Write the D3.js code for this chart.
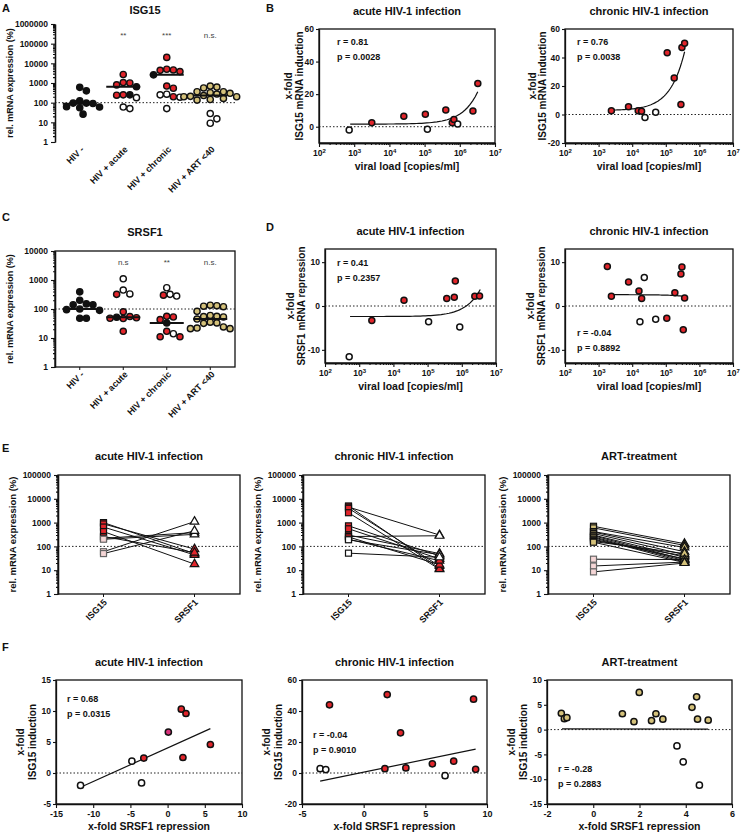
<!DOCTYPE html>
<html>
<head>
<meta charset="utf-8">
<script src="https://cdn.jsdelivr.net/npm/d3@7"></script>
<style>
body{margin:0;background:#fff;}
svg{display:block;}
</style>
</head>
<body>
<script>
// ---------- values ----------
var groups=["HIV -","HIV + acute","HIV + chronic","HIV + ART <40"]

// A: ISG15 rel. mRNA expression (%)  (k=black, r=red, o=open, y=yellow)
var isgNeg=[600,400,125,95,95,90,62,60,55,26]
var isgNegKind="kkkkkkkkkk"
var isgAcute=[2700,1050,1000,800,650,250,250,240,180,60,50]
var isgAcuteKind="rrrrkrkrooo"
var isgChronic=[20000,5000,4600,4400,3800,2600,700,540,270,250,200,190,50]
var isgChronicKind="rrrrrkrrooroo"
var isgArt=[700,620,560,360,360,320,300,275,230,210,200,200,165,145,135,28,15,9]
var isgArtKind="yyyyyyyyyyyyyyyooo"
var isgLines=[88,650,2600,230]
var isgSig=["","**","***","n.s."]

// C: SRSF1 rel. mRNA expression (%)
var srNeg=[390,200,150,140,140,100,95,90,48,48]
var srNegKind="kkkkkkkkkk"
var srAcute=[1100,450,330,320,80,55,52,50,48,47,17]
var srAcuteKind="ooorrrkrrrr"
var srChronic=[540,320,300,280,56,53,43,33,17,14,11,11]
var srChronicKind="oororrrkrorr"
var srArt=[135,130,125,120,83,60,56,55,53,45,35,33,32,24,22,21,21]
var srArtKind="yyyyyyyyyyyyyyyyy"
var srLines=[100,52,33,45]
var srSig=["","n.s","**","n.s."]

// B: ISG15 x-fold induction vs viral load
var bAcuteLoad=[720,3160,25700,105000,120000,400000,610000,680000,870000,2360000,3250000]
var bAcuteFold=[-2.0,2.5,6.5,7.6,-1.6,10.2,2.5,4.5,1.6,9.6,26.6]
var bAcuteKind="orrrorrrorr"
var bAcuteFit=[770,3240000,1.6,6.14e-6]        // xStart, xEnd, intercept, slope
var bChronicLoad=[2400,7760,15100,19000,24000,50000,110000,178000,282000,302000,363000]
var bChronicFold=[2.6,5.4,2.6,2.3,-2.1,1.6,43.4,25.6,7.0,47,50]
var bChronicKind="rrrroorrrrr"
var bChronicFit=[2400,363000,2.78,1.137e-4]

// D: SRSF1 x-fold repression vs viral load
var dAcuteLoad=[510,2340,20400,107000,363000,603000,646000,871000,2400000,3300000]
var dAcuteFold=[-11.6,-3.3,1.3,-3.6,1.7,2.0,5.7,-4.8,2.2,2.3]
var dAcuteKind="orrorrrorr"
var dAcuteFit=[540,3470000,-2.4,1.78e-6]
var dChronicLoad=[1820,2400,7800,15900,19100,22900,17000,50000,107000,186000,282000,302000,363000,331000]
var dChronicFold=[9.0,2.2,5.5,3.4,1.7,6.5,-3.6,-3.0,-2.8,3.0,7.3,8.9,1.8,-5.4]
var dChronicKind="rrrrrooorrrrrr"
var dChronicFit=[1950,363000,2.58,-1.05e-6]

// E: paired ISG15 / SRSF1 (r red, p pink/open, x red/open, w white, y yellow, q pink/yellow)
var eAcuteIsg=[1000,880,650,420,260,220,200,60,50]
var eAcuteSr=[50,77,44,18,55,380,320,1100,450]
var eAcuteKind="rrrrrxppp"
var eChronicIsg=[5000,4500,4000,2600,730,550,300,260,250,200,190,52]
var eChronicSr=[12,300,15,11,40,30,50,280,17,25,45,35]
var eChronicKind="rxrrrrrxrrww"
var eArtIsg=[700,600,420,400,350,300,280,250,230,200,180,160,150,29,15,8.5]
var eArtSr=[130,110,90,60,45,35,28,25,22,30,40,50,21,28,22,20]
var eArtKind="yyyyyyyyyyyyyqqq"

// F: ISG15 induction vs SRSF1 repression
var fAcuteX=[-11.7,-4.8,-3.2,-3.5,0.1,1.84,2.47,2.06,5.75]
var fAcuteY=[-2.0,1.9,2.4,-1.6,6.6,10.3,9.6,2.5,4.6]
var fAcuteKind="ooromrrrr"
var fAcuteFit=[-11.7,5.75,4.04,0.5415]
var fChronicX=[-3.53,-3.07,-2.77,1.91,1.72,2.99,3.42,5.57,6.6,7.3,8.91,9.08]
var fChronicY=[2.8,2.2,44,50.6,2.8,25.9,3.3,5.9,-1.7,7.6,47.6,2.4]
var fChronicKind="oorrrrrrorrr"
var fChronicFit=[-3.53,9.08,0.566,1.634]
var fArtX=[-1.38,-1.25,-1.14,1.26,1.76,1.99,2.52,2.71,3.01,4.27,4.47,4.51,4.97,3.62,3.89,4.59]
var fArtY=[3.3,2.2,2.4,3.2,1.6,7.5,1.8,3.2,2.1,4.5,6.6,2.1,1.9,-3.3,-6.5,-11.2]
var fArtKind="yyyyyyyyyyyyyooo"
var fArtFit=[-1.35,4.97,0.15,-0.01]

// ---------- drawing ----------
var FONT="'Liberation Sans', Arial, sans-serif"
var RED="#e2252b", YEL="#d4c17a", PINK="#f5d6d6", MAG="#d8307a"
var fills={r:RED,k:"#111",o:"#fff",y:YEL,m:MAG,w:"#fff",p:PINK}
var sqFill={r:RED,p:PINK,x:RED,w:"#fff",y:YEL,q:PINK}
var triFill={r:RED,p:"#fff",x:"#fff",w:"#fff",y:YEL,q:YEL}

var svg=d3.select("body").append("svg").attr("width",742).attr("height",833)
  .attr("font-family",FONT).attr("font-weight","bold")

var addText=function(x,y,s,size,anchor,rot){
  var t=svg.append("text").attr("x",x).attr("y",y).attr("font-size",size)
    .attr("text-anchor",anchor||"middle").attr("fill","#111").text(s)
  if(rot)t.attr("transform","rotate("+rot+","+x+","+y+")")
  return t
}

var styleAxis=function(a,size){
  a.attr("font-family",null).attr("font-size",null)
  a.select(".domain").attr("stroke","#111").attr("stroke-width",1.3)
  a.selectAll(".tick line").attr("stroke","#111").attr("stroke-width",1.1)
  a.selectAll(".tick text").attr("fill","#111").attr("font-size",size||8.5).attr("font-weight","bold")
}

var box=function(g,p){
  g.append("rect").attr("x",p.left).attr("y",p.top)
   .attr("width",p.right-p.left).attr("height",p.bottom-p.top)
   .attr("fill","none").attr("stroke","#111").attr("stroke-width",1.3)
}

var dotted=function(g,x1,x2,yy){
  g.append("line").attr("x1",x1).attr("x2",x2).attr("y1",yy).attr("y2",yy)
   .attr("stroke","#222").attr("stroke-width",1).attr("stroke-dasharray","1.5,2")
}

var logLeft=function(g,y,maxExp,x0){
  var major=d3.range(0,maxExp+1).map(function(e){return Math.pow(10,e)})
  var minor=[]
  d3.range(0,maxExp).forEach(function(e){
    d3.range(2,10).forEach(function(m){minor.push(m*Math.pow(10,e))})})
  var m=g.append("g").attr("transform","translate("+x0+",0)")
    .call(d3.axisLeft(y).tickValues(minor).tickSize(2).tickSizeOuter(0).tickFormat(""))
  styleAxis(m)
  var a=g.append("g").attr("transform","translate("+x0+",0)")
    .call(d3.axisLeft(y).tickValues(major).tickSize(4).tickSizeOuter(0).tickFormat(d3.format("d")))
  styleAxis(a,8.5)
}

var linLeft=function(g,y,ticks,x0){
  var a=g.append("g").attr("transform","translate("+x0+",0)")
    .call(d3.axisLeft(y).tickValues(ticks).tickSize(3).tickPadding(2).tickSizeOuter(0).tickFormat(function(d){return String(d)}))
  styleAxis(a,8.5)
}

// simple deterministic beeswarm
var swarm=function(ys,minDist){
  var order=d3.range(ys.length).sort(function(a,b){return d3.ascending(ys[a],ys[b])})
  var placed=[],off=[]
  order.forEach(function(i){
    for(var k=0;k<80;k++){
      var dx=Math.ceil(k/2)*(k%2?1:-1)*minDist*0.5
      var ok=placed.every(function(q){return Math.hypot(dx-q[0],ys[i]-q[1])>=minDist})
      if(ok){off[i]=dx;placed.push([dx,ys[i]]);break}
    }
  })
  return off
}

var dotPanel=function(p){
  var y=d3.scaleLog().domain([1,Math.pow(10,p.maxExp)]).range([p.bottom,p.top])
  var x=d3.scalePoint().domain(groups).range([p.left+3,p.right-3]).padding(0.5)
  var g=svg.append("g")
  if(p.box){
    box(g,p)
    groups.forEach(function(c){
      g.append("line").attr("x1",x(c)).attr("x2",x(c)).attr("y1",p.bottom).attr("y2",p.bottom+3).attr("stroke","#111")})
  }
  dotted(g,p.left,p.right,y(100))
  logLeft(g,y,p.maxExp,p.left)
  p.sets.forEach(function(vals,i){
    var kinds=p.kinds[i].split("")
    var cx=x(groups[i])
    var off=swarm(vals.map(function(v){return y(v)}),6.6)
    g.append("g").selectAll("circle").data(vals).enter().append("circle")
      .attr("cx",function(d,j){return cx+off[j]})
      .attr("cy",function(d){return y(d)})
      .attr("r",3.1)
      .attr("fill",function(d,j){return fills[kinds[j]]})
      .attr("stroke","#111").attr("stroke-width",1.4)
    g.append("line").attr("x1",cx-17).attr("x2",cx+17)
      .attr("y1",y(p.lines[i])).attr("y2",y(p.lines[i]))
      .attr("stroke","#111").attr("stroke-width",2)
    g.append("text").attr("x",cx).attr("y",p.sigY).attr("text-anchor","middle")
      .attr("font-size",8).attr("font-weight","normal").attr("fill","#444").text(p.sig[i])
    g.append("text").attr("transform","translate("+(cx+5)+","+p.labY+") rotate(-45)")
      .attr("text-anchor","end").attr("font-size",9).attr("fill","#111").text(groups[i])
  })
  addText(145,p.titleY,p.title,11)
  addText(13,(p.top+p.bottom)/2,"rel. mRNA expression (%)",9,"middle",-90)
}

var loadPanel=function(p){
  var x=d3.scaleLog().domain([1e2,1e7]).range([p.left,p.right])
  var y=d3.scaleLinear().domain(p.ydom).range([p.bottom,p.top])
  var g=svg.append("g")
  box(g,p)
  dotted(g,p.left,p.right,y(0))
  linLeft(g,y,p.yticks,p.left)
  var minor=[]
  d3.range(2,7).forEach(function(e){d3.range(2,10).forEach(function(m){minor.push(m*Math.pow(10,e))})})
  var m=g.append("g").attr("transform","translate(0,"+p.bottom+")")
    .call(d3.axisBottom(x).tickValues(minor).tickSize(2).tickSizeOuter(0).tickFormat(""))
  styleAxis(m)
  var a=g.append("g").attr("transform","translate(0,"+p.bottom+")")
    .call(d3.axisBottom(x).tickValues([1e2,1e3,1e4,1e5,1e6,1e7]).tickSize(4).tickSizeOuter(0))
  styleAxis(a,8.5)
  a.selectAll(".tick text").text("10").append("tspan").attr("dy","-3.5").attr("font-size",6)
    .text(function(d){return Math.round(Math.log10(d))})
  // fitted model y = a + b*x, drawn along the log axis
  var f=p.fit, lx0=Math.log10(f[0]), lx1=Math.log10(f[1])
  var pts=d3.range(0,1.0001,0.02).map(function(t){var v=Math.pow(10,lx0+t*(lx1-lx0));return [v,f[2]+f[3]*v]})
  g.append("path").datum(pts)
    .attr("d",d3.line().x(function(d){return x(d[0])}).y(function(d){return y(d[1])}))
    .attr("fill","none").attr("stroke","#111").attr("stroke-width",1.2)
  var kinds=p.kind.split("")
  g.append("g").selectAll("circle").data(p.load).enter().append("circle")
    .attr("cx",function(d){return x(d)})
    .attr("cy",function(d,i){return y(p.fold[i])})
    .attr("r",3).attr("fill",function(d,i){return fills[kinds[i]]})
    .attr("stroke","#111").attr("stroke-width",1.5)
  addText((p.left+p.right)/2,p.titleY,p.title,11)
  var cy=(p.top+p.bottom)/2
  addText(p.left-p.yl1+3.5,cy,"x-fold",10,"middle",-90)
  addText(p.left-p.yl2+3.5,cy,p.ylab,10,"middle",-90)
  addText((p.left+p.right)/2,p.bottom+27,"viral load [copies/ml]",10.5)
  addText(p.left+p.statDx,p.statY,p.r,9,"start")
  addText(p.left+p.statDx,p.statY+15,p.p,9,"start")
}

var pairPanel=function(p){
  var y=d3.scaleLog().domain([1,1e5]).range([p.bottom,p.top])
  var x=d3.scalePoint().domain(["ISG15","SRSF1"]).range([p.left,p.right]).padding(0.5)
  var g=svg.append("g")
  box(g,p)
  dotted(g,p.left,p.right,y(100))
  logLeft(g,y,5,p.left)
  ;["ISG15","SRSF1"].forEach(function(c){
    g.append("line").attr("x1",x(c)).attr("x2",x(c)).attr("y1",p.bottom).attr("y2",p.bottom+3).attr("stroke","#111")
    g.append("text").attr("transform","translate("+(x(c)+4)+","+(p.bottom+9)+") rotate(-45)")
      .attr("text-anchor","end").attr("font-size",9).attr("fill","#111").text(c)
  })
  var kinds=p.kind.split("")
  g.append("g").selectAll("line").data(p.isg).enter().append("line")
    .attr("x1",x("ISG15")).attr("x2",x("SRSF1"))
    .attr("y1",function(d){return y(d)}).attr("y2",function(d,i){return y(p.sr[i])})
    .attr("stroke","#111").attr("stroke-width",1)
  g.append("g").selectAll("rect").data(p.isg).enter().append("rect")
    .attr("x",x("ISG15")-3).attr("y",function(d){return y(d)-3})
    .attr("width",6).attr("height",6)
    .attr("fill",function(d,i){return sqFill[kinds[i]]})
    .attr("stroke",function(d,i){return "pq".indexOf(kinds[i])>=0?"#666":"#111"}).attr("stroke-width",1.2)
  g.append("g").selectAll("path").data(p.sr).enter().append("path")
    .attr("d",d3.symbol(d3.symbolTriangle).size(32))
    .attr("transform",function(d){return "translate("+x("SRSF1")+","+y(d)+")"})
    .attr("fill",function(d,i){return triFill[kinds[i]]})
    .attr("stroke","#111").attr("stroke-width",1.2)
  addText((p.left+p.right)/2,p.titleY,p.title,11)
  addText(p.left-42,(p.top+p.bottom)/2,"rel. mRNA expression (%)",9.5,"middle",-90)
}

var corrPanel=function(p){
  var x=d3.scaleLinear().domain(p.xdom).range([p.left,p.right])
  var y=d3.scaleLinear().domain(p.ydom).range([p.bottom,p.top])
  var g=svg.append("g")
  box(g,p)
  dotted(g,p.left,p.right,y(0))
  linLeft(g,y,p.yticks,p.left)
  var a=g.append("g").attr("transform","translate(0,"+p.bottom+")")
    .call(d3.axisBottom(x).tickValues(p.xticks).tickSize(4).tickSizeOuter(0).tickFormat(function(d){return String(d)}))
  styleAxis(a,9)
  var f=p.fit
  g.append("line").attr("x1",x(f[0])).attr("x2",x(f[1]))
    .attr("y1",y(f[2]+f[3]*f[0])).attr("y2",y(f[2]+f[3]*f[1]))
    .attr("stroke","#111").attr("stroke-width",1.2)
  var kinds=p.kind.split("")
  g.append("g").selectAll("circle").data(p.xs).enter().append("circle")
    .attr("cx",function(d){return x(d)})
    .attr("cy",function(d,i){return y(p.ys[i])})
    .attr("r",3.1).attr("fill",function(d,i){return fills[kinds[i]]})
    .attr("stroke","#111").attr("stroke-width",1.5)
  addText((p.left+p.right)/2,p.titleY,p.title,11)
  var cy=(p.top+p.bottom)/2
  addText(p.left-32,cy,"x-fold",10,"middle",-90)
  addText(p.left-20,cy,"ISG15 induction",10,"middle",-90)
  addText((p.left+p.right)/2,830,"x-fold SRSF1 repression",10.5)
  addText(p.left+11,p.statY,p.r,9,"start")
  addText(p.left+11,p.statY+15,p.p,9,"start")
}

// A
dotPanel({left:55,right:235,top:24,bottom:142,maxExp:6,box:false,title:"ISG15",titleY:14,
  sets:[isgNeg,isgAcute,isgChronic,isgArt],kinds:[isgNegKind,isgAcuteKind,isgChronicKind,isgArtKind],
  lines:isgLines,sig:isgSig,sigY:38,labY:150})
// C
dotPanel({left:55,right:235,top:251,bottom:367,maxExp:4,box:true,title:"SRSF1",titleY:236,
  sets:[srNeg,srAcute,srChronic,srArt],kinds:[srNegKind,srAcuteKind,srChronicKind,srArtKind],
  lines:srLines,sig:srSig,sigY:265,labY:375})
// B
loadPanel({left:319,right:495,top:29,bottom:143,ydom:[-10,60],yticks:[0,20,40,60],yl1:31,yl2:20,
  load:bAcuteLoad,fold:bAcuteFold,kind:bAcuteKind,fit:bAcuteFit,title:"acute HIV-1 infection",titleY:15,
  ylab:"ISG15 mRNA induction",r:"r = 0.81",p:"p = 0.0028",statDx:18,statY:45})
loadPanel({left:565,right:733,top:29,bottom:143,ydom:[-20,60],yticks:[-20,0,20,40,60],yl1:33,yl2:23,
  load:bChronicLoad,fold:bChronicFold,kind:bChronicKind,fit:bChronicFit,title:"chronic HIV-1 infection",titleY:15,
  ylab:"ISG15 mRNA induction",r:"r = 0.76",p:"p = 0.0038",statDx:12,statY:45})
// D
loadPanel({left:325,right:496,top:249,bottom:363,ydom:[-13,13],yticks:[-10,0,10],yl1:35,yl2:24,
  load:dAcuteLoad,fold:dAcuteFold,kind:dAcuteKind,fit:dAcuteFit,title:"acute HIV-1 infection",titleY:235,
  ylab:"SRSF1 mRNA repression",r:"r = 0.41",p:"p = 0.2357",statDx:12,statY:266})
loadPanel({left:565,right:733,top:249,bottom:363,ydom:[-13,13],yticks:[-10,0,10],yl1:35,yl2:24,
  load:dChronicLoad,fold:dChronicFold,kind:dChronicKind,fit:dChronicFit,title:"chronic HIV-1 infection",titleY:235,
  ylab:"SRSF1 mRNA repression",r:"r = -0.04",p:"p = 0.8892",statDx:12,statY:336})
// E
pairPanel({left:58,right:240,top:475,bottom:594,isg:eAcuteIsg,sr:eAcuteSr,kind:eAcuteKind,title:"acute HIV-1 infection",titleY:460})
pairPanel({left:303,right:485,top:475,bottom:594,isg:eChronicIsg,sr:eChronicSr,kind:eChronicKind,title:"chronic HIV-1 infection",titleY:460})
pairPanel({left:548,right:730,top:475,bottom:594,isg:eArtIsg,sr:eArtSr,kind:eArtKind,title:"ART-treatment",titleY:460})
// F
corrPanel({left:56,right:242,top:680,bottom:804,xdom:[-15,10],xticks:[-15,-10,-5,0,5,10],ydom:[-5,15],yticks:[-5,0,5,10,15],
  xs:fAcuteX,ys:fAcuteY,kind:fAcuteKind,fit:fAcuteFit,title:"acute HIV-1 infection",titleY:666,r:"r = 0.68",p:"p = 0.0315",statY:702})
corrPanel({left:302,right:487,top:680,bottom:804,xdom:[-5,10],xticks:[-5,0,5,10],ydom:[-20,60],yticks:[-20,0,20,40,60],
  xs:fChronicX,ys:fChronicY,kind:fChronicKind,fit:fChronicFit,title:"chronic HIV-1 infection",titleY:666,r:"r = -0.04",p:"p = 0.9010",statY:738})
corrPanel({left:547,right:732,top:680,bottom:804,xdom:[-2,6],xticks:[-2,0,2,4,6],ydom:[-15,10],yticks:[-15,-10,-5,0,5,10],
  xs:fArtX,ys:fArtY,kind:fArtKind,fit:fArtFit,title:"ART-treatment",titleY:666,r:"r = -0.28",p:"p = 0.2883",statY:772})

// panel letters
addText(2,12,"A",11,"start")
addText(266,12,"B",11,"start")
addText(2,221,"C",11,"start")
addText(266,231,"D",11,"start")
addText(2,452,"E",11,"start")
addText(2,651,"F",11,"start")
</script>
</body>
</html>
